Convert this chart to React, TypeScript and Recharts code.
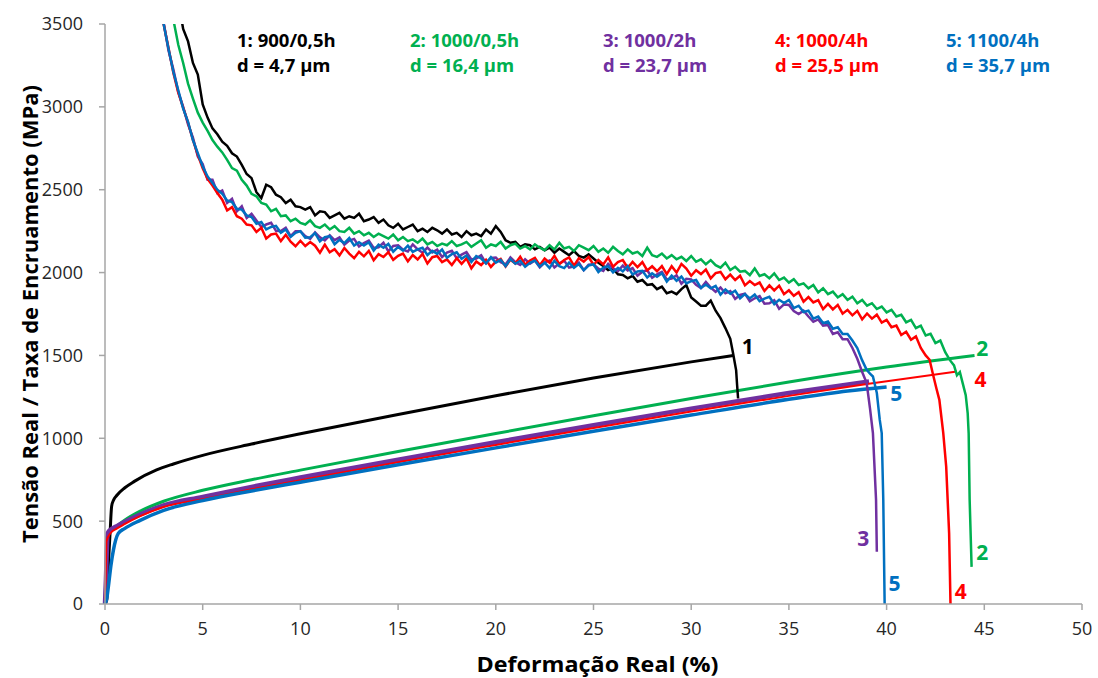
import { LineChart, Line, XAxis, YAxis, ReferenceDot, Label } from "recharts";

// strain grid step for the work-hardening (noisy) curves, in %
const STEP = 0.25;

const xTicks = [0, 5, 10, 15, 20, 25, 30, 35, 40, 45, 50];
const yTicks = [0, 500, 1000, 1500, 2000, 2500, 3000, 3500];

// true stress curves [strain %, MPa]
const stress1 = [[0, 0], [0.09, 25], [0.2, 300], [0.26, 430], [0.34, 590], [0.45, 630], [0.6, 655], [1, 700], [1.5, 740], [2.64, 809], [3.5, 845], [5, 897], [7.5, 965], [10, 1027], [15, 1144], [20, 1257], [25, 1364], [30, 1461], [32.15, 1500]];
const stress2 = [[0, 0], [0.05, 200], [0.09, 400], [0.3, 440], [0.6, 470], [1, 505], [1.8, 560], [3, 620], [5, 686], [7.5, 750], [10, 808], [15, 920], [20, 1029], [25, 1136], [30, 1240], [35, 1340], [40, 1430], [44.5, 1500]];
const stress3 = [[0, 0], [0.05, 150], [0.1, 350], [0.14, 428], [0.3, 450], [0.6, 470], [1, 495], [1.8, 540], [3, 595], [5, 646], [7.5, 707], [10, 763], [15, 871], [20, 976], [25, 1079], [30, 1179], [35, 1273], [39.1, 1343]];
const stress4 = [[0, 0], [0.03, 150], [0.08, 380], [0.3, 430], [0.6, 455], [1, 482], [1.8, 530], [3, 585], [5, 632], [7.5, 692], [10, 747], [15, 856], [20, 960], [25, 1062], [30, 1162], [35, 1256], [39, 1327], [43.6, 1403]];
const stress5 = [[0, 0], [0.1, 40], [0.17, 103], [0.3, 230], [0.43, 325], [0.68, 426], [1, 455], [1.8, 505], [3, 565], [5, 624], [7.5, 682], [10, 735], [15, 840], [20, 942], [25, 1042], [30, 1140], [35, 1235], [38, 1285], [40, 1310]];

// work hardening rate, sampled every STEP from the start strain, then the final drop
const rate1Start = 3.75;
const rate1 = [
  3640, 3470, 3395, 3265, 3195, 3015, 2935, 2870, 2835, 2790,
  2765, 2720, 2700, 2650, 2595, 2570, 2485, 2450, 2530, 2515,
  2470, 2455, 2420, 2440, 2400, 2395, 2380, 2395, 2345, 2370,
  2365, 2330, 2345, 2360, 2325, 2340, 2330, 2355, 2310, 2320,
  2335, 2300, 2320, 2285, 2270, 2295, 2260, 2275, 2290, 2250,
  2265, 2245, 2270, 2255, 2235, 2260, 2230, 2240, 2215, 2250,
  2225, 2235, 2220, 2260, 2235, 2280, 2245, 2195, 2180, 2185,
  2155, 2170, 2165, 2140, 2155, 2135, 2150, 2120, 2145, 2125,
  2105, 2130, 2100, 2090, 2110, 2085, 2060, 2040, 2015, 2025,
  1990, 1985, 1965, 1980, 1945, 1955, 1925, 1930, 1900, 1915,
  1875, 1885, 1870, 1900, 1925, 1850, 1825, 1800, 1800, 1830,
  1770, 1725, 1665, 1600,
];
const rate1Tail = [[32.14, 1515], [32.3, 1410], [32.35, 1320], [32.4, 1240]];

const rate2Start = 3.25;
const rate2 = [
  3700, 3525, 3375, 3265, 3140, 3050, 2965, 2905, 2855, 2800,
  2760, 2725, 2680, 2630, 2615, 2560, 2525, 2475, 2460, 2420,
  2410, 2370, 2385, 2340, 2345, 2310, 2325, 2300, 2290, 2315,
  2280, 2270, 2290, 2260, 2280, 2250, 2245, 2270, 2235, 2250,
  2225, 2240, 2215, 2235, 2220, 2205, 2230, 2195, 2215, 2190,
  2200, 2180, 2205, 2170, 2185, 2160, 2175, 2165, 2190, 2160,
  2170, 2185, 2155, 2175, 2195, 2150, 2170, 2160, 2185, 2145,
  2165, 2175, 2145, 2160, 2140, 2170, 2150, 2135, 2165, 2140,
  2180, 2145, 2155, 2130, 2165, 2150, 2135, 2160, 2125, 2145,
  2120, 2155, 2130, 2110, 2140, 2115, 2125, 2100, 2150, 2105,
  2095, 2115, 2085, 2105, 2080, 2095, 2070, 2100, 2065, 2080,
  2050, 2075, 2045, 2030, 2060, 2015, 2035, 2005, 2010, 1985,
  2025, 1980, 1990, 1965, 1995, 1955, 1970, 1940, 1960, 1925,
  1935, 1905, 1925, 1880, 1905, 1870, 1885, 1850, 1870, 1835,
  1855, 1815, 1835, 1800, 1815, 1780, 1795, 1760, 1775, 1735,
  1745, 1700, 1715, 1665, 1680, 1620, 1630, 1575, 1590, 1520,
];
const rate2Tail = [[43.25, 1470], [43.45, 1440], [43.6, 1380], [43.75, 1400], [43.9, 1330], [44.05, 1260], [44.15, 1150], [44.2, 1030], [44.25, 630], [44.35, 224]];

const rate3Start = 2.75;
const rate3 = [
  3690, 3510, 3340, 3225, 3090, 3000, 2895, 2815, 2700, 2655,
  2560, 2560, 2480, 2495, 2420, 2445, 2370, 2400, 2330, 2355,
  2315, 2275, 2290, 2300, 2252, 2250, 2270, 2220, 2250, 2250,
  2220, 2203, 2243, 2213, 2194, 2225, 2196, 2212, 2168, 2193,
  2203, 2158, 2178, 2193, 2148, 2153, 2180, 2128, 2161, 2165,
  2138, 2127, 2170, 2140, 2120, 2151, 2122, 2138, 2094, 2120,
  2131, 2087, 2108, 2123, 2079, 2085, 2105, 2056, 2088, 2090,
  2062, 2049, 2091, 2063, 2046, 2080, 2054, 2073, 2032, 2060,
  2073, 2031, 2054, 2072, 2030, 2038, 2061, 2014, 2047, 2050,
  2023, 2010, 2053, 2026, 2009, 2042, 2013, 2027, 1981, 2005,
  2014, 1969, 1989, 2004, 1959, 1964, 1984, 1933, 1962, 1959,
  1926, 1907, 1943, 1909, 1884, 1910, 1875, 1888, 1841, 1865,
  1873, 1827, 1845, 1858, 1812, 1815, 1833, 1781, 1808, 1805,
  1768, 1750, 1770, 1735, 1703, 1717, 1680, 1683, 1630, 1640,
  1598, 1598, 1545, 1480,
];
const rate3Tail = [[38.75, 1400], [38.98, 1333], [39.15, 1180], [39.3, 1031], [39.46, 628], [39.5, 315]];

const rate4Start = 2.75;
const rate4 = [
  3700, 3500, 3355, 3205, 3085, 2995, 2905, 2800, 2710, 2630,
  2565, 2525, 2480, 2440, 2375, 2395, 2340, 2325, 2290, 2285,
  2245, 2270, 2205, 2230, 2235, 2190, 2228, 2186, 2159, 2192,
  2160, 2184, 2162, 2120, 2169, 2122, 2141, 2104, 2148, 2114,
  2087, 2125, 2098, 2131, 2074, 2111, 2094, 2123, 2077, 2101,
  2115, 2068, 2106, 2079, 2112, 2055, 2093, 2100, 2063, 2080,
  2046, 2087, 2053, 2085, 2026, 2067, 2045, 2077, 2034, 2066,
  2083, 2036, 2078, 2055, 2096, 2047, 2073, 2088, 2044, 2085,
  2060, 2101, 2051, 2076, 2092, 2042, 2087, 2066, 2094, 2047,
  2076, 2049, 2092, 2035, 2063, 2076, 2029, 2064, 2033, 2063,
  2013, 2038, 2008, 2039, 1991, 2038, 2000, 2052, 2024, 1981,
  2014, 1991, 2018, 1965, 1997, 2004, 1960, 1988, 1955, 1981,
  1923, 1949, 1925, 1940, 1889, 1923, 1892, 1921, 1870, 1893,
  1860, 1882, 1824, 1852, 1820, 1834, 1779, 1811, 1778, 1805,
  1752, 1775, 1742, 1769, 1718, 1753, 1722, 1746, 1698, 1715,
  1670, 1680, 1623, 1643, 1595, 1615, 1545, 1500,
];
const rate4Tail = [[42.2, 1474], [42.4, 1373], [42.55, 1300], [42.7, 1232], [42.9, 1031], [43.05, 829], [43.2, 426], [43.27, 0]];

const rate5Start = 2.75;
const rate5 = [
  3700, 3500, 3350, 3210, 3100, 2990, 2910, 2800, 2720, 2640,
  2580, 2540, 2500, 2475, 2435, 2425, 2385, 2380, 2345, 2335,
  2295, 2305, 2260, 2275, 2282, 2240, 2260, 2215, 2240, 2250,
  2210, 2213, 2238, 2188, 2214, 2220, 2171, 2197, 2178, 2208,
  2163, 2183, 2163, 2183, 2133, 2168, 2150, 2173, 2126, 2155,
  2133, 2162, 2125, 2140, 2150, 2106, 2132, 2113, 2139, 2090,
  2111, 2122, 2083, 2103, 2064, 2100, 2085, 2056, 2093, 2060,
  2077, 2039, 2081, 2053, 2071, 2035, 2059, 2073, 2037, 2060,
  2028, 2071, 2039, 2027, 2060, 2028, 2051, 2014, 2042, 2050,
  2003, 2030, 2038, 2001, 2029, 2007, 2039, 1988, 2007, 2011,
  1970, 1995, 1975, 1996, 1946, 1981, 1951, 1976, 1935, 1948,
  1955, 1907, 1928, 1905, 1920, 1867, 1898, 1872, 1891, 1845,
  1870, 1844, 1868, 1827, 1843, 1854, 1810, 1836, 1816, 1835,
  1785, 1800, 1762, 1770, 1722, 1735, 1695, 1705, 1661, 1670,
  1630, 1630, 1590, 1545, 1470,
];
const rate5Tail = [[38.98, 1413], [39.15, 1390], [39.3, 1373], [39.5, 1273], [39.65, 1111], [39.75, 1031], [39.83, 628], [39.9, 0]];

const samples = ["1: 900/0,5h", "2: 1000/0,5h", "3: 1000/2h", "4: 1000/4h", "5: 1100/4h"];
const grainSizes = ["d = 4,7 µm", "d = 16,4 µm", "d = 23,7 µm", "d = 25,5 µm", "d = 35,7 µm"];

const COLORS = ["#000000", "#00B050", "#7030A0", "#FF0000", "#0070C0"];
const FONT = "'Open Sans', 'Noto Sans', sans-serif";

// curve tags placed next to the ends of the curves: [tag, strain, MPa, colour index]
const curveTags: [string, number, number, number][] = [
  ["1", 32.9, 1553, 0],
  ["2", 44.9, 1540, 1],
  ["4", 44.8, 1353, 3],
  ["5", 40.5, 1269, 4],
  ["3", 38.8, 398, 2],
  ["5", 40.4, 126, 4],
  ["2", 44.9, 313, 1],
  ["4", 43.8, 77, 3],
];

const toPts = (pairs: number[][]) => pairs.map(([x, y]) => ({ x, y }));
const gridPts = (start: number, vals: number[], tail: number[][]) => [
  ...vals.map((y, i) => ({ x: +(start + i * STEP).toFixed(2), y })),
  ...toPts(tail),
];

const rates = [
  gridPts(rate1Start, rate1, rate1Tail),
  gridPts(rate2Start, rate2, rate2Tail),
  gridPts(rate3Start, rate3, rate3Tail),
  gridPts(rate4Start, rate4, rate4Tail),
  gridPts(rate5Start, rate5, rate5Tail),
];
const stresses = [stress1, stress2, stress3, stress4, stress5].map(toPts);
const stressWidths = [3, 3, 4.5, 2, 3.5];

const YTitle = (props: any) => {
  const vb = props.viewBox;
  const cx = vb.x + 30;
  const cy = vb.y + vb.height / 2;
  return (
    <text
      x={cx}
      y={cy}
      transform={`rotate(-90 ${cx} ${cy})`}
      textAnchor="middle"
      dominantBaseline="central"
      fontFamily={FONT}
      fontWeight={700}
      fontSize={21}
      textLength={458}
      lengthAdjust="spacingAndGlyphs"
      fill="#000"
    >
      Tensão Real / Taxa de Encruamento (MPa)
    </text>
  );
};

const XTitle = (props: any) => {
  const vb = props.viewBox;
  const cx = vb.x + vb.width / 2 + 4;
  return (
    <text
      x={cx}
      y={vb.y + 60}
      textAnchor="middle"
      dominantBaseline="central"
      fontFamily={FONT}
      fontWeight={700}
      fontSize={21}
      textLength={242}
      lengthAdjust="spacingAndGlyphs"
      fill="#000"
    >
      Deformação Real (%)
    </text>
  );
};

export default function App() {
  return (
    <div style={{ position: "absolute", left: 0, top: 0, width: 1098, height: 678, background: "#fff", fontFamily: FONT }}>
      <LineChart width={1098} height={678} margin={{ top: 24, right: 16, bottom: 44, left: 0 }}>
        <XAxis
          type="number"
          dataKey="x"
          domain={[0, 50]}
          ticks={xTicks}
          interval={0}
          height={30}
          stroke="#A6A6A6"
          strokeWidth={1.5}
          tickSize={6}
          tickMargin={12}
          tick={{ fill: "#262626", fontSize: 18, fontFamily: FONT }}
          label={{ content: XTitle }}
        />
        <YAxis
          type="number"
          dataKey="y"
          domain={[0, 3500]}
          ticks={yTicks}
          interval={0}
          allowDataOverflow
          width={105}
          stroke="#A6A6A6"
          strokeWidth={1.5}
          tickSize={6}
          tickMargin={16}
          tick={{ fill: "#262626", fontSize: 18, fontFamily: FONT }}
          label={{ content: YTitle }}
        />
        {stresses.map((d, i) => (
          <Line
            key={`s${i}`}
            data={d}
            dataKey="y"
            type="monotone"
            stroke={COLORS[i]}
            strokeWidth={stressWidths[i]}
            dot={false}
            isAnimationActive={false}
          />
        ))}
        {rates.map((d, i) => (
          <Line
            key={`r${i}`}
            data={d}
            dataKey="y"
            type="linear"
            stroke={COLORS[i]}
            strokeWidth={2.5}
            dot={false}
            isAnimationActive={false}
          />
        ))}
        {curveTags.map(([t, x, y, c], i) => (
          <ReferenceDot key={`t${i}`} x={x} y={y} r={0} fill="none" stroke="none">
            <Label value={t} position="center" style={{ fontFamily: FONT, fontWeight: 700, fontSize: 21, fill: COLORS[c] }} />
          </ReferenceDot>
        ))}
      </LineChart>
      {samples.map((s, i) => (
        <div
          key={s}
          style={{
            position: "absolute",
            left: [237, 410, 603, 775, 946][i],
            top: 27,
            color: COLORS[i],
            fontWeight: 700,
            fontSize: 18.5,
            lineHeight: "25px",
            whiteSpace: "nowrap",
          }}
        >
          <div>{s}</div>
          <div>{grainSizes[i]}</div>
        </div>
      ))}
    </div>
  );
}
